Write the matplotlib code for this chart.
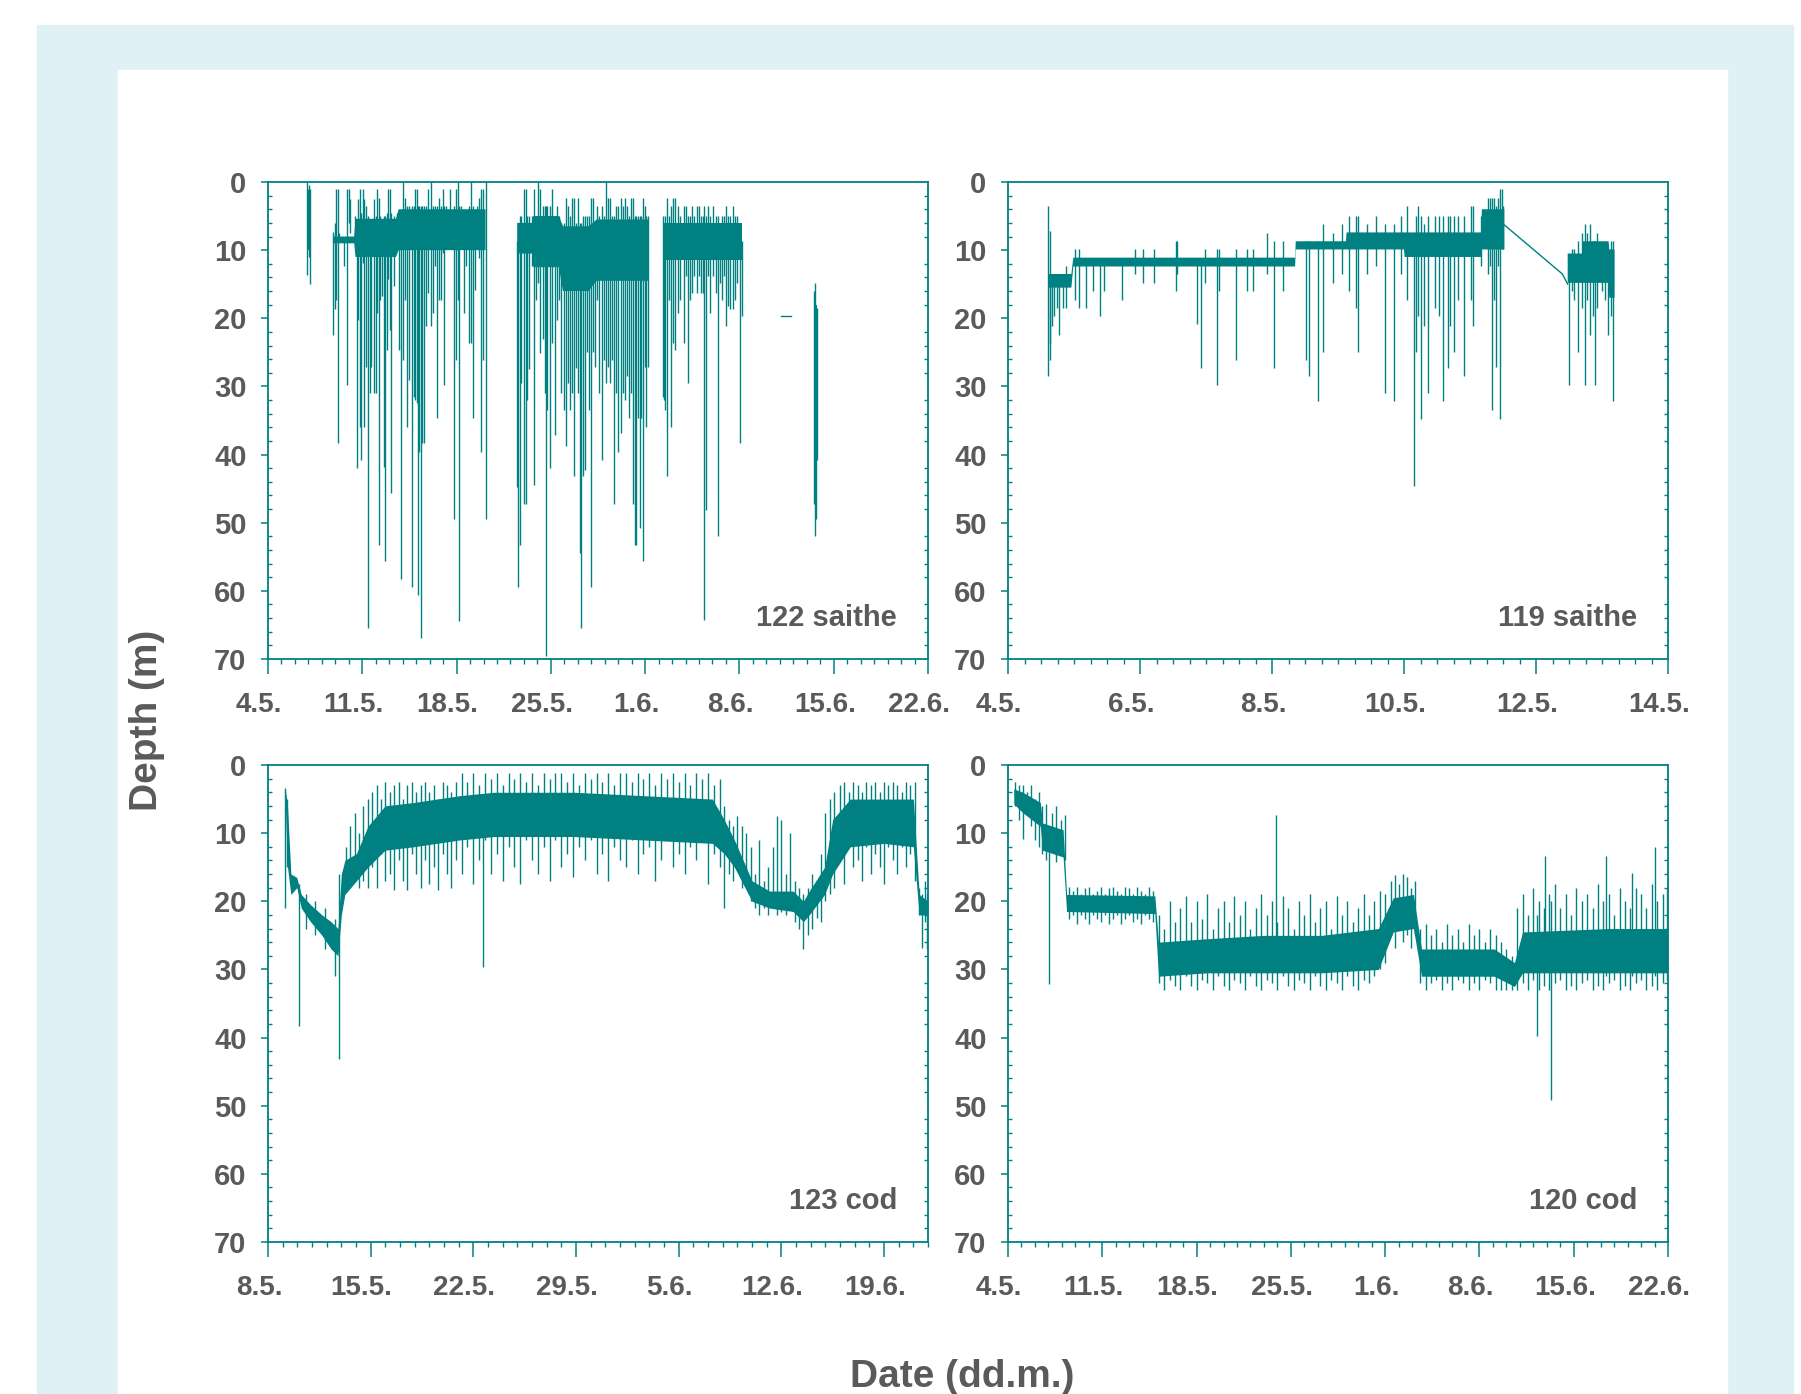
import numpy as np
import matplotlib
matplotlib.use("Agg")
import matplotlib.pyplot as plt
from matplotlib.patches import Rectangle
from matplotlib.ticker import MultipleLocator
from matplotlib.transforms import ScaledTranslation

plt.rcParams['font.family'] = ['Liberation Sans', 'DejaVu Sans']
plt.rcParams['font.weight'] = 'bold'

teal = '#008080'
grey = '#5a5a5a'
nan = np.nan

# ---- 122 saithe (days after 4 May) ----
tl_env_t = [2.88, 3.13, nan, 4.86, 6.4, 6.5, 9.5, 9.7, 16.15, nan,
            18.5, 19.6, 19.7, 21.6, 21.9, 23.8, 24.4, 28.22, nan,
            29.31, 35.17, nan, 40.5, 40.76]
tl_env_top = [2, 2, nan, 8, 8, 5.4, 5.4, 4.0, 4.0, nan,
              6, 6, 5, 5, 6.5, 6.5, 5.5, 5.5, nan, 6, 6, nan, 18, 18]
tl_env_bot = [10, 10, nan, 9, 9, 11, 11, 10, 10, nan,
              10.5, 10.5, 12.5, 12.5, 16, 16, 14.5, 14.5, nan, 11.5, 11.5, nan, 46, 46]
tl_dives = [
    (2.88, 0.0, 13.6), (2.95, 1.0, 9.0), (3.01, 0.5, 11.0), (3.10, 1.1, 14.9),
    (4.86, 7.4, 22.4), (4.95, 6.0, 18.7), (5.02, 1.1, 17.3), (5.17, 1.1, 38.3),
    (5.27, 7.5, 8.7), (5.64, 8.4, 12.4), (5.89, 1.1, 29.8), (6.02, 1.1, 6.0),
    (6.11, 2.5, 7.5), (6.43, 5.0, 8.9), (6.58, 6.0, 42.0), (6.68, 2.5, 20.2),
    (6.83, 1.1, 35.9), (6.90, 4.5, 40.8), (7.05, 1.1, 11.9), (7.15, 2.5, 35.9),
    (7.27, 3.5, 27.1), (7.46, 5.0, 65.5), (7.59, 5.5, 31.0), (7.68, 6.0, 27.1),
    (7.84, 2.5, 31.0), (7.99, 5.0, 31.0), (8.09, 1.1, 19.2), (8.21, 2.3, 53.3),
    (8.31, 5.0, 17.3), (8.46, 6.0, 16.8), (8.62, 5.0, 41.8), (8.72, 5.0, 55.6),
    (8.84, 4.5, 24.6), (8.93, 1.1, 14.3), (9.09, 1.1, 21.7), (9.15, 4.5, 45.7),
    (9.34, 5.0, 15.3), (9.56, 4.5, 9.4), (9.72, 4.5, 24.6), (9.88, 5.0, 58.2),
    (10.03, 0.0, 26.1), (10.19, 2.3, 17.3), (10.35, 3.5, 35.9), (10.50, 3.5, 29.0),
    (10.66, 3.5, 59.4), (10.82, 3.5, 31.5), (10.91, 1.1, 32.0), (11.04, 1.1, 32.5),
    (11.13, 3.5, 60.6), (11.22, 3.5, 39.6), (11.35, 3.5, 66.9), (11.47, 3.5, 38.3),
    (11.60, 3.5, 38.3), (11.76, 3.5, 21.2), (11.91, 1.1, 16.3), (12.07, 0.0, 21.2),
    (12.23, 3.5, 19.2), (12.38, 3.5, 12.4), (12.54, 3.5, 34.7), (12.70, 2.3, 17.3),
    (12.85, 3.5, 17.3), (12.98, 1.1, 10.4), (13.10, 3.5, 29.8), (13.23, 3.5, 9.9),
    (13.48, 1.1, 8.4), (13.79, 3.5, 49.5), (13.95, 1.1, 26.1), (14.11, 0.0, 17.3),
    (14.17, 3.5, 64.4), (14.36, 3.5, 8.4), (14.58, 5.0, 19.2), (14.73, 6.0, 12.4),
    (14.89, 3.5, 23.6), (15.05, 0.0, 23.6), (15.20, 3.5, 34.7), (15.36, 5.0, 15.8),
    (15.52, 3.5, 9.9), (15.68, 2.3, 11.1), (15.83, 1.1, 39.6), (15.99, 1.1, 26.1),
    (16.15, 0.0, 49.5),
    (18.50, 8.7, 44.7), (18.56, 8.7, 59.4), (18.68, 5.0, 53.3), (18.81, 5.0, 29.5),
    (18.97, 1.1, 47.2), (19.12, 1.1, 47.2), (19.22, 5.0, 32.0), (19.37, 5.0, 27.5),
    (19.59, 5.0, 12.4), (19.75, 1.1, 44.5), (19.91, 5.0, 17.3), (20.06, 0.0, 14.8),
    (20.22, 1.1, 25.1), (20.38, 3.5, 23.1), (20.53, 3.5, 31.0), (20.63, 3.5, 69.5),
    (20.75, 3.5, 33.4), (20.94, 3.5, 42.0), (21.07, 1.1, 23.6), (21.32, 5.0, 37.1),
    (21.47, 3.5, 20.2), (21.63, 5.0, 17.3), (21.79, 6.0, 31.0), (21.95, 6.0, 33.4),
    (22.10, 2.3, 38.8), (22.26, 3.5, 29.5), (22.42, 5.0, 33.4), (22.57, 2.3, 31.0),
    (22.73, 2.3, 43.2), (22.89, 6.0, 27.3), (23.04, 2.3, 31.0), (23.14, 6.0, 54.5),
    (23.26, 6.0, 65.5), (23.36, 5.0, 43.2), (23.51, 5.0, 42.3), (23.67, 5.0, 24.9),
    (23.83, 5.0, 33.4), (23.98, 2.3, 59.4), (24.14, 2.3, 24.9), (24.30, 6.0, 27.1),
    (24.45, 3.5, 17.3), (24.61, 5.0, 31.0), (24.77, 3.5, 40.8), (24.92, 5.0, 26.1),
    (25.08, 0.0, 29.5), (25.24, 2.3, 27.1), (25.39, 2.3, 29.5), (25.55, 5.0, 26.1),
    (25.71, 5.0, 47.2), (25.86, 3.5, 31.0), (26.02, 3.5, 39.6), (26.18, 2.3, 36.9),
    (26.33, 3.5, 31.0), (26.49, 2.3, 32.0), (26.65, 3.5, 28.5), (26.80, 5.0, 34.7),
    (26.96, 2.3, 31.0), (27.12, 2.3, 47.2), (27.21, 5.0, 53.3), (27.34, 5.0, 53.3),
    (27.46, 5.0, 34.7), (27.59, 5.0, 50.8), (27.71, 5.0, 34.7), (27.84, 2.3, 55.6),
    (27.96, 3.5, 27.1), (28.09, 5.0, 35.9), (28.22, 5.0, 27.1),
    (29.31, 5.0, 31.5), (29.37, 6.0, 32.0), (29.47, 5.0, 33.4), (29.63, 2.3, 43.2),
    (29.78, 5.0, 17.3), (29.94, 3.5, 35.9), (30.10, 2.3, 23.6), (30.25, 2.3, 24.6),
    (30.41, 3.5, 19.2), (30.57, 5.0, 17.3), (30.88, 3.5, 23.6), (31.04, 3.5, 13.8),
    (31.19, 5.0, 29.5), (31.35, 5.0, 17.3), (31.51, 3.5, 16.3), (31.66, 5.0, 13.8),
    (31.82, 3.5, 16.3), (31.98, 3.5, 13.8), (32.13, 5.0, 16.3), (32.29, 5.0, 16.3),
    (32.38, 3.5, 64.3), (32.51, 5.0, 48.1), (32.67, 3.5, 13.8), (32.85, 5.0, 19.2),
    (33.07, 3.5, 13.8), (33.23, 5.0, 16.3), (33.39, 5.0, 52.0), (33.54, 6.0, 14.8),
    (33.70, 5.0, 17.3), (33.86, 5.0, 13.8), (34.01, 3.5, 21.2), (34.17, 5.0, 18.2),
    (34.33, 5.0, 18.7), (34.49, 3.5, 18.7), (34.64, 5.0, 17.3), (34.80, 5.0, 14.8),
    (35.05, 8.7, 38.3), (35.17, 8.7, 19.7),
    (40.50, 16.0, 47.2), (40.60, 14.8, 52.0), (40.69, 18.5, 49.5), (40.76, 18.5, 40.8),
]
tl_dash_t = [38.09, 38.81]
tl_dash_d = [19.7, 19.7]

# ---- 119 saithe (days after 4 May) ----
tr_env_t = [0.62, 0.96, 0.99, 4.35, 4.36, 5.12, 5.13, 6.0, 6.01, 7.17, 7.18, 7.52, nan,
            8.48, 8.70, 8.71, 9.10, 9.11, 9.19]
tr_env_top = [13.5, 13.5, 11.1, 11.1, 8.7, 8.7, 7.4, 7.4, 7.4, 7.4, 4.0, 4.0, nan,
              10.5, 10.5, 8.7, 8.7, 9.9, 9.9]
tr_env_bot = [15.5, 15.5, 12.4, 12.4, 9.9, 9.9, 9.9, 9.9, 11.0, 11.0, 9.9, 9.9, nan,
              14.8, 14.8, 14.8, 14.8, 17, 17]
tr_dives = [
    (0.61, 3.5, 28.5), (0.63, 7.2, 26.1), (0.64, 13.5, 23.6), (0.67, 13.5, 21.2),
    (0.70, 13.5, 19.7), (0.74, 13.5, 18.5), (0.77, 13.5, 22.4), (0.83, 13.5, 18.5),
    (0.88, 12.4, 18.5), (1.02, 9.8, 17.3), (1.08, 9.8, 18.5), (1.18, 11.1, 18.5),
    (1.29, 11.1, 16.0), (1.40, 11.1, 19.7), (1.46, 11.1, 16.0), (1.72, 11.1, 17.3),
    (1.92, 9.8, 13.5), (2.05, 9.8, 14.8), (2.21, 9.8, 14.8), (2.55, 8.7, 16.0),
    (2.56, 8.7, 13.5), (2.86, 11.1, 20.9), (2.93, 11.1, 27.3), (2.98, 9.8, 14.8),
    (3.16, 9.8, 29.8), (3.20, 9.8, 16.0), (3.46, 9.8, 26.1), (3.62, 9.8, 16.0),
    (3.71, 9.8, 16.0), (3.92, 7.5, 13.5), (4.03, 8.7, 27.3), (4.16, 8.7, 16.0),
    (4.51, 8.7, 26.1), (4.56, 8.7, 28.5), (4.69, 8.7, 32.2), (4.77, 6.2, 24.9),
    (4.93, 7.5, 14.8), (5.06, 6.2, 13.5), (5.17, 5.0, 16.0), (5.28, 5.0, 18.5),
    (5.31, 5.0, 24.9), (5.44, 6.2, 13.5), (5.57, 5.0, 12.4), (5.71, 6.2, 31.0),
    (5.85, 6.2, 32.2), (5.95, 5.0, 13.5), (6.05, 3.5, 17.3), (6.15, 7.5, 44.6),
    (6.18, 5.0, 24.9), (6.21, 3.5, 19.7), (6.26, 5.0, 34.8), (6.31, 6.2, 21.2),
    (6.37, 5.0, 31.0), (6.47, 5.0, 18.5), (6.53, 5.0, 19.7), (6.59, 5.0, 32.2),
    (6.66, 5.0, 27.3), (6.69, 5.0, 21.2), (6.75, 5.0, 24.9), (6.82, 5.0, 17.3),
    (6.91, 5.0, 28.5), (7.01, 3.5, 17.3), (7.04, 3.5, 21.2), (7.17, 5.0, 12.4),
    (7.27, 2.3, 13.5), (7.30, 2.3, 12.4), (7.33, 2.3, 33.4), (7.36, 2.3, 17.3),
    (7.39, 3.5, 27.1), (7.43, 2.3, 12.4), (7.45, 1.1, 34.8), (7.48, 1.1, 9.9),
    (7.50, 3.5, 9.9),
    (8.50, 11.1, 29.8), (8.55, 9.9, 16.0), (8.58, 9.9, 17.3), (8.64, 8.7, 24.9),
    (8.69, 7.5, 18.5), (8.74, 6.2, 29.8), (8.78, 7.5, 17.3), (8.82, 6.2, 22.4),
    (8.87, 8.7, 19.7), (8.89, 8.7, 29.8), (8.93, 7.5, 18.5), (9.00, 8.7, 16.0),
    (9.04, 9.9, 17.3), (9.09, 9.9, 22.4), (9.14, 8.7, 19.7), (9.17, 8.7, 32.2),
]
tr_link_t = [7.52, 8.40, 8.48]
tr_link_d = [6.3, 13.5, 15.0]

# ---- 123 cod (days after 8 May) ----
bl_env_t = [1.17, 1.33, 1.56, 1.96, 2.27, 2.90, 3.68, 4.30, 4.77, 5.0, 5.24, 6.03,
            6.81, 7.98, 9.94, 13.07, 15.4, 20.9, 25.6, 30.3, 31.1, 31.8, 33.0,
            34.2, 35.8, 36.5, 36.9, 37.95, 38.5, 39.7, 42.0, 44.0, 44.4, 45.0]
bl_env_top = [3.4, 6, 16, 16.5, 19, 20.5, 22, 23, 24, 16, 14, 13, 9, 6, 5.5, 4.5,
              4, 4, 4.5, 5, 8, 11, 17, 18.5, 18.5, 20, 18.5, 15, 8, 5, 5, 5, 19, 20]
bl_env_bot = [5, 15, 19, 18, 21, 23, 25, 27, 28, 22, 19, 17, 15, 12.5, 12, 11, 10.5,
              10.5, 11, 11.5, 13, 15, 20, 21, 21.5, 23, 22, 19, 16, 12, 11.5, 12,
              22, 22]
bl_dives = [
    (1.17, 3.4, 21.0), (1.30, 5.0, 15.0), (2.11, 17.5, 38.3), (2.60, 19, 24),
    (3.20, 20, 25), (3.90, 21, 27), (4.54, 22.6, 31.0), (4.85, 16.0, 43.2),
    (14.63, 5.7, 29.7),
    (5.3, 12, 17), (5.6, 9, 18), (5.9, 7, 16), (6.2, 10, 18), (6.5, 6, 17), (6.8, 5, 18),
    (7.1, 4, 15), (7.4, 3, 18), (7.7, 5, 13), (8.0, 2.5, 17), (8.3, 4, 16),
    (8.6, 3, 18.4), (8.9, 2.5, 14), (9.2, 5, 17), (9.5, 3, 18.4), (9.8, 2.5, 13),
    (10.1, 4, 16), (10.4, 3, 18), (10.7, 2.5, 14), (11.0, 4, 17.5), (11.3, 3, 15),
    (11.6, 5, 18.4), (11.9, 2.5, 13), (12.2, 3, 16), (12.5, 4, 18), (12.8, 2.5, 14),
    (13.2, 1.2, 16), (13.6, 2.5, 12), (14.0, 1.2, 17.5), (14.4, 3, 14), (14.8, 1.2, 11),
    (15.2, 2, 16), (15.6, 1.2, 13), (16.0, 3, 17), (16.4, 1.2, 12), (16.8, 2, 15),
    (17.2, 1.2, 17.5), (17.6, 2.5, 11), (18.0, 1.2, 14), (18.4, 3, 16), (18.8, 1.2, 12),
    (19.2, 2, 17), (19.6, 1.2, 11), (20.0, 1.2, 15), (20.4, 2.5, 13), (20.8, 1.2, 16.5),
    (21.2, 3, 12), (21.6, 1.2, 14), (22.0, 2, 11), (22.4, 1.2, 16), (22.8, 2.5, 13),
    (23.2, 1.2, 17), (23.6, 3, 12), (24.0, 1.2, 14), (24.4, 1.2, 15), (24.8, 2.5, 11),
    (25.2, 1.2, 16), (25.6, 2, 13), (26.0, 1.2, 12), (26.4, 3, 17), (26.8, 1.2, 14),
    (27.2, 2, 11), (27.6, 1.2, 15), (28.0, 2.5, 13), (28.4, 1.2, 16), (28.8, 3, 12),
    (29.2, 1.2, 14), (29.6, 2, 11), (30.0, 1.2, 17.5), (30.4, 3, 13), (30.8, 2, 15),
    (31.1, 6, 21), (31.4, 8, 16), (31.7, 9, 17), (32.0, 7.5, 15), (32.3, 9, 18),
    (32.6, 10, 16), (32.9, 12, 20),
    (33.2, 16, 21), (33.5, 11, 22), (33.8, 17, 21), (34.1, 15, 22), (34.4, 12, 21),
    (34.7, 7.5, 22), (35.0, 8, 21.5), (35.3, 16, 22), (35.6, 10, 21), (35.9, 17, 23),
    (36.2, 18, 24),
    (36.5, 19, 27), (36.8, 18, 25), (37.1, 16, 24), (37.4, 17, 22.5), (37.7, 13, 23),
    (38.0, 7, 20), (38.3, 5, 19), (38.6, 4, 18),
    (39.0, 3, 13), (39.3, 2.5, 17.5), (39.6, 4, 12), (39.9, 2.5, 15), (40.2, 3, 14),
    (40.5, 4, 17), (40.8, 2.5, 12), (41.1, 3, 16), (41.4, 2.5, 13), (41.7, 4, 15),
    (42.0, 2.5, 17.5), (42.3, 3, 12), (42.6, 2.5, 14), (42.9, 3, 16), (43.2, 4, 12),
    (43.5, 2.5, 15), (43.8, 3, 13), (44.1, 2.5, 17),
    (44.4, 18, 22), (44.6, 19, 26.8), (44.8, 17, 23), (44.95, 19, 27),
]

# ---- 120 cod (days after 4 May) ----
br_env_t = [0.43, 1.1, 2.4, 2.56, 4.09, 4.35, 10.9, 11.17, 14.75, 19.0, 23.3,
            27.5, 28.6, 30.1, 30.7, 36.1, 37.6, 38.2, 44.6, 49.0]
br_env_top = [3.5, 4, 5.5, 8.5, 9.5, 19, 19.2, 26, 25.5, 25, 25, 24, 19.5, 19,
              27, 27, 29, 24.5, 24, 24]
br_env_bot = [5.7, 7, 9, 12.5, 13.5, 21.5, 21.8, 31, 30.5, 30.5, 30.5, 30, 24.5,
              24, 31, 31, 32.5, 30.5, 30.5, 30.5]
br_dives = [
    (3.07, 10.0, 32.2), (19.86, 7.4, 28.0), (39.3, 22.0, 39.8), (39.9, 13.3, 30.0),
    (40.3, 20.0, 49.2), (44.4, 13.3, 31.0), (46.3, 15.9, 31.0), (48.0, 12.1, 31.0),
    (0.5, 2.5, 6), (0.8, 3, 8), (1.1, 2.9, 10.8), (1.4, 4, 7), (1.7, 3, 9),
    (2.0, 5, 11), (2.3, 4, 12),
    (2.5, 6, 13), (2.8, 5.7, 14), (3.3, 7, 12), (3.6, 6, 14.2), (3.9, 8, 13), (4.2, 7.4, 14),
    (4.5, 17.9, 22.6), (4.8, 18.5, 22), (5.1, 17.9, 23.4), (5.4, 19, 22), (5.7, 18, 22.6),
    (6.0, 17.9, 23.4), (6.3, 19, 22), (6.6, 18.5, 22.6), (6.9, 17.9, 23), (7.2, 19, 22),
    (7.5, 18, 23.4), (7.8, 17.9, 22.6), (8.1, 18.5, 22), (8.4, 19, 23.4), (8.7, 17.9, 22.6),
    (9.0, 18, 22), (9.3, 19, 23), (9.6, 17.9, 22.6), (9.9, 18.5, 23.4), (10.2, 19, 22),
    (10.5, 17.9, 22.6), (10.8, 18.5, 23),
    (11.2, 22, 32), (11.6, 24, 33), (12.0, 20, 31.5), (12.4, 23, 32.4), (12.8, 21, 33),
    (13.2, 19.2, 31), (13.6, 23, 32.4), (14.0, 20, 33), (14.4, 22.6, 31.5), (14.8, 19, 32),
    (15.2, 24, 33), (15.6, 21, 31), (16.0, 20, 32.4), (16.4, 23, 33), (16.8, 19.2, 31.5),
    (17.2, 22, 32), (17.6, 20, 33), (18.0, 24, 31), (18.4, 21, 32.4), (18.8, 19, 33),
    (19.2, 22, 31.5), (19.6, 20, 32), (20.0, 23, 33), (20.4, 19.2, 31), (20.8, 21, 32.4),
    (21.2, 24, 33), (21.6, 20, 31.5), (22.0, 22, 32), (22.4, 19, 33), (22.8, 23, 31),
    (23.2, 21, 32.4), (23.6, 20, 33), (24.0, 24, 31.5), (24.4, 19.2, 32), (24.8, 22, 33),
    (25.2, 20, 31), (25.6, 23, 32.4), (26.0, 21, 33), (26.4, 19, 31.5), (26.8, 22, 32),
    (27.2, 20, 31), (27.6, 18.5, 30), (28.0, 19, 29),
    (28.4, 17, 25), (28.7, 16.2, 26.8), (29.0, 17.5, 24), (29.3, 16, 26), (29.6, 16.5, 25),
    (29.9, 18, 26.8), (30.2, 17, 25),
    (30.6, 24, 32), (31.0, 23.4, 33), (31.4, 25, 32), (31.8, 24, 31.5), (32.2, 26, 33),
    (32.6, 23.4, 32), (33.0, 25, 33), (33.4, 24, 31.5), (33.8, 26, 32), (34.2, 23.4, 33),
    (34.6, 25, 32), (35.0, 24, 33), (35.4, 26, 31.5), (35.8, 24, 32), (36.2, 25, 33),
    (36.6, 26, 33), (37.0, 27, 33), (37.4, 28, 33),
    (37.8, 21, 33), (38.2, 19, 32), (38.6, 22, 33), (39.0, 18, 31.5), (39.4, 20, 33),
    (39.8, 21, 32.4), (40.2, 19, 33), (40.6, 17.5, 32), (41.0, 21, 31.5), (41.4, 19, 33),
    (41.8, 22, 32.4), (42.2, 18, 33), (42.6, 20, 32), (43.0, 19, 31.5), (43.4, 21, 33),
    (43.8, 17.5, 32.4), (44.2, 20, 33), (44.6, 19, 32), (45.0, 22, 31.5), (45.4, 18, 33),
    (45.8, 20, 32.4), (46.2, 21, 33), (46.6, 18, 32), (47.0, 19, 31.5), (47.4, 21, 33),
    (47.8, 17.5, 32.4), (48.2, 20, 33), (48.6, 19, 32), (48.95, 18, 31.5),
]

# axis ticks
may4_labels = ['4.5.', '11.5.', '18.5.', '25.5.', '1.6.', '8.6.', '15.6.', '22.6.']
may4_ticks = [0, 7, 14, 21, 28, 35, 42, 49]
short_labels = ['4.5.', '6.5.', '8.5.', '10.5.', '12.5.', '14.5.']
short_ticks = [0, 2, 4, 6, 8, 10]
may8_labels = ['8.5.', '15.5.', '22.5.', '29.5.', '5.6.', '12.6.', '19.6.']
may8_ticks = [0, 7, 14, 21, 28, 35, 42]
depth_ticks = [0, 10, 20, 30, 40, 50, 60, 70]

W, H = 1801, 1394
fig = plt.figure(figsize=(W / 100, H / 100), dpi=100)
fig.patches.append(Rectangle((37 / W, 0), (1793 - 37) / W, 1 - 25 / H,
                             transform=fig.transFigure, color='#dff1f4', zorder=-2))
fig.patches.append(Rectangle((118 / W, 0), (1727 - 118) / W, 1 - 70 / H,
                             transform=fig.transFigure, color='white', zorder=-1))


def make_axes(left_px, top_px):
    ax = fig.add_axes([left_px / W, 1 - (top_px + 477) / H, 660 / W, 477 / H])
    ax.set_facecolor('none')
    for s in ax.spines.values():
        s.set_color(teal)
        s.set_linewidth(1.3)
    ax.set_ylim(70, 0)
    ax.set_yticks(depth_ticks)
    ax.yaxis.set_minor_locator(MultipleLocator(2))
    ax.tick_params(axis='y', which='major', direction='out', length=5.4, width=1.1,
                   color=teal, labelsize=21, labelcolor=grey, pad=10)
    ax.tick_params(axis='y', which='minor', direction='in', length=2.6, width=1.0,
                   color=teal, left=True, right=True)
    ax.tick_params(axis='x', which='major', direction='out', length=10.8, width=1.1,
                   color=teal, labelsize=20, labelcolor=grey, pad=13)
    ax.tick_params(axis='x', which='minor', direction='out', length=3.8, width=1.0,
                   color=teal)
    return ax


def draw(ax, env_t, env_top, env_bot, dives):
    ax.fill_between(env_t, env_top, env_bot, color=teal, lw=0)
    t = [d[0] for d in dives]
    ax.vlines(t, [d[1] for d in dives], [d[2] for d in dives], color=teal, lw=1.0)


def set_dates(ax, ticks, labels, xmax, minor):
    ax.set_xlim(0, xmax)
    ax.set_xticks(ticks)
    ax.set_xticklabels(labels)
    ax.xaxis.set_minor_locator(MultipleLocator(minor))
    shift = ScaledTranslation(-9 / 100, 0, fig.dpi_scale_trans)
    for lbl in ax.get_xticklabels():
        lbl.set_transform(lbl.get_transform() + shift)


def name(ax, text):
    ax.text(0.953, 0.069, text, transform=ax.transAxes, ha='right', va='baseline',
            fontsize=21, color=grey, fontweight='bold')


ax1 = make_axes(268, 182)
draw(ax1, tl_env_t, tl_env_top, tl_env_bot, tl_dives)
ax1.plot(tl_dash_t, tl_dash_d, color=teal, lw=1.0)
set_dates(ax1, may4_ticks, may4_labels, 49, 1)
name(ax1, '122 saithe')

ax2 = make_axes(1008, 182)
draw(ax2, tr_env_t, tr_env_top, tr_env_bot, tr_dives)
ax2.plot(tr_link_t, tr_link_d, color=teal, lw=1.0)
set_dates(ax2, short_ticks, short_labels, 10, 0.25)
name(ax2, '119 saithe')

ax3 = make_axes(268, 765)
draw(ax3, bl_env_t, bl_env_top, bl_env_bot, bl_dives)
set_dates(ax3, may8_ticks, may8_labels, 45, 1)
name(ax3, '123 cod')

ax4 = make_axes(1008, 765)
draw(ax4, br_env_t, br_env_top, br_env_bot, br_dives)
set_dates(ax4, may4_ticks, may4_labels, 49, 1)
name(ax4, '120 cod')

fig.text(147 / W, 1 - 720 / H, 'Depth (m)', rotation=90, ha='center', va='center',
         fontsize=28, color=grey, fontweight='bold')
fig.text(962 / W, 1 - 1387 / H, 'Date (dd.m.)', ha='center', va='baseline',
         fontsize=28, color=grey, fontweight='bold')

fig.savefig('out.png', dpi=100, facecolor='white')
